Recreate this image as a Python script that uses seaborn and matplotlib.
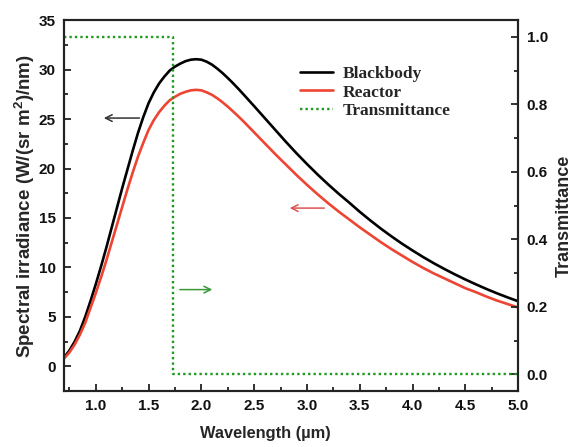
import numpy as np
import pandas as pd
import matplotlib
matplotlib.use("Agg")
import matplotlib.pyplot as plt
from matplotlib.ticker import MultipleLocator, FormatStrFormatter
import seaborn as sns

# Spectral irradiance (W/(sr m^2)/nm) versus wavelength (um)
wavelength = [0.70, 0.75, 0.80, 0.85, 0.90, 0.95, 1.00, 1.05, 1.10, 1.15,
              1.20, 1.25, 1.30, 1.35, 1.40, 1.45, 1.50, 1.55, 1.60, 1.65,
              1.70, 1.75, 1.80, 1.85, 1.90, 1.95, 2.00, 2.05, 2.10, 2.15,
              2.20, 2.25, 2.30, 2.35, 2.40, 2.45, 2.50,
              2.6, 2.7, 2.8, 2.9, 3.0, 3.1, 3.2, 3.3, 3.4, 3.5, 3.6, 3.7,
              3.8, 3.9, 4.0, 4.1, 4.2, 4.3, 4.4, 4.5, 4.6, 4.7, 4.8, 4.9, 5.0]
blackbody = [0.9, 1.6, 2.5, 3.6, 5.0, 6.6, 8.3, 10.1, 12.0, 14.0,
             16.0, 18.0, 19.9, 21.8, 23.6, 25.2, 26.6, 27.7, 28.6, 29.3,
             29.9, 30.3, 30.6, 30.85, 31.0, 31.05, 31.0, 30.8, 30.5, 30.1,
             29.65, 29.15, 28.62, 28.06, 27.48, 26.89, 26.3,
             25.1, 23.9, 22.7, 21.55, 20.45, 19.4, 18.4, 17.45, 16.55, 15.62, 14.75, 13.92,
             13.14, 12.4, 11.71, 11.05, 10.43, 9.85, 9.3, 8.78, 8.29, 7.82, 7.38, 6.97, 6.58]
reactor = [0.8, 1.4, 2.2, 3.2, 4.4, 5.9, 7.4, 9.0, 10.7, 12.5,
           14.3, 16.1, 17.9, 19.6, 21.2, 22.6, 23.9, 24.9, 25.7, 26.35,
           26.9, 27.25, 27.55, 27.75, 27.9, 27.95, 27.9, 27.7, 27.45, 27.1,
           26.7, 26.25, 25.77, 25.27, 24.75, 24.2, 23.65,
           22.55, 21.45, 20.4, 19.35, 18.35, 17.4, 16.5, 15.65, 14.85, 14.05, 13.3, 12.55,
           11.85, 11.2, 10.55, 9.95, 9.4, 8.9, 8.4, 7.9, 7.5, 7.05, 6.65, 6.3, 5.95]

# Filter transmittance: pass band up to the cut-off, then blocked
trans_wavelength = [0.7, 1.73, 5.0]
transmittance = [1.0, 0.0, 0.0]

sns.set_theme(style="ticks")
plt.rcParams["font.family"] = ["Liberation Sans", "DejaVu Sans"]
plt.rcParams["mathtext.fontset"] = "custom"
plt.rcParams["mathtext.rm"] = "Liberation Sans:bold"
plt.rcParams["mathtext.bf"] = "Liberation Sans:bold"

df = pd.DataFrame({"wl": wavelength, "Blackbody": blackbody, "Reactor": reactor})
dt = pd.DataFrame({"wl": trans_wavelength, "T": transmittance})

fig = plt.figure(figsize=(5.72, 4.47), dpi=100)
ax = fig.add_axes([0.112, 0.125, 0.794, 0.830])
ax2 = ax.twinx()

sns.lineplot(data=df, x="wl", y="Blackbody", ax=ax, color="black", lw=1.9,
             label="Blackbody", legend=False)
sns.lineplot(data=df, x="wl", y="Reactor", ax=ax, color="#ee4433", lw=1.9,
             label="Reactor", legend=False)
sns.lineplot(data=dt, x="wl", y="T", ax=ax2, color="#1f9a1f", lw=1.7,
             linestyle=(0, (1, 1.3)), drawstyle="steps-post",
             label="Transmittance", legend=False)

ax.set_xlim(0.7, 5.0)
ax.set_ylim(-2.5, 35)
ax2.set_ylim(-0.05, 1.05)

ax.xaxis.set_major_locator(MultipleLocator(0.5))
ax.xaxis.set_minor_locator(MultipleLocator(0.25))
ax.yaxis.set_major_locator(MultipleLocator(5))
ax.yaxis.set_minor_locator(MultipleLocator(2.5))
ax2.yaxis.set_major_locator(MultipleLocator(0.2))
ax2.yaxis.set_minor_locator(MultipleLocator(0.1))
ax.xaxis.set_major_formatter(FormatStrFormatter("%.1f"))
ax2.yaxis.set_major_formatter(FormatStrFormatter("%.1f"))

spine_c = "#222222"
for a in (ax, ax2):
    for s in a.spines.values():
        s.set_linewidth(1.5)
        s.set_color(spine_c)
        s.set_visible(True)
    a.tick_params(which="both", direction="in", color=spine_c, width=1.3,
                  labelsize=11, pad=6)
    a.tick_params(which="major", length=5)
    a.tick_params(which="minor", length=3)
ax.tick_params(axis="y", which="both", right=False)
ax.tick_params(axis="x", which="both", top=False)
for lab in ax.get_xticklabels() + ax.get_yticklabels() + ax2.get_yticklabels():
    lab.set_fontweight("bold")
    lab.set_color("#111111")

ax.set_xlabel("Wavelength (\u00b5m)", fontsize=11.8, fontweight="bold")
ax.xaxis.set_label_coords(0.443, -0.093)
ax.set_ylabel(r"Spectral irradiance (W/(sr m$^{\mathbf{2}}$)/nm)", fontsize=13.5,
              fontweight="bold", labelpad=1)
ax2.set_ylabel("Transmittance", fontsize=13, fontweight="bold")
ax2.yaxis.set_label_coords(1.083, 0.472)

# Arrows indicating which axis each curve belongs to
ax.annotate("", xy=(1.05, 25.1), xytext=(1.44, 25.1),
            arrowprops=dict(arrowstyle="->", color="#333333", lw=1.1))
ax.annotate("", xy=(2.81, 16.0), xytext=(3.19, 16.0),
            arrowprops=dict(arrowstyle="->", color="#dd5555", lw=1.1))
ax2.annotate("", xy=(2.13, 0.251), xytext=(1.77, 0.251),
             arrowprops=dict(arrowstyle="->", color="#3a993a", lw=1.1))

handles = ax.get_lines()[:2] + ax2.get_lines()[:1]
leg = ax.legend(handles, ["Blackbody", "Reactor", "Transmittance"],
                loc="upper left", bbox_to_anchor=(0.486, 0.918), frameon=False,
                prop={"family": "Liberation Serif", "weight": "bold", "size": 12.5},
                handlelength=1.9, handletextpad=0.52, labelspacing=0.12)

fig.savefig("out.png", dpi=100)
